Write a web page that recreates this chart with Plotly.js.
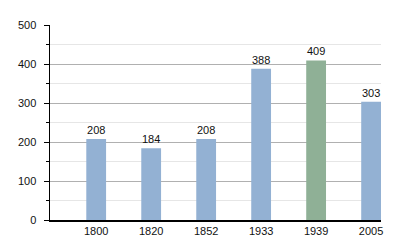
<!DOCTYPE html>
<html><head><meta charset="utf-8">
<script src="https://cdn.plot.ly/plotly-3.0.1.min.js"></script>
<style>html,body{margin:0;padding:0;background:#fff}#c{width:400px;height:250px}</style>
</head><body><div id="c"></div>
<script>
const years = ["1800","1820","1852","1933","1939","2005"];
const population = [208,184,208,388,409,303];
const barColors = ["#93b1d3","#93b1d3","#93b1d3","#93b1d3","#8fb096","#93b1d3"];

Plotly.newPlot('c', [{
  type:'bar', x:years, y:population,
  marker:{color:barColors},
  width:0.36,
  text:population.map(String), textposition:'outside', cliponaxis:false,
  textfont:{family:'Liberation Sans, Arial, sans-serif', size:11, color:'#111'}
}], {
  width:400, height:250,
  margin:{l:50, r:19, t:25, b:30},
  paper_bgcolor:'#fff', plot_bgcolor:'#fff',
  showlegend:false,
  font:{family:'Liberation Sans, Arial, sans-serif', size:11, color:'#111'},
  xaxis:{type:'category', range:[-0.84,5.18], showline:true, linecolor:'#000', linewidth:1.5,
    ticks:'', showgrid:false, zeroline:false, fixedrange:true},
  yaxis:{range:[0,500], dtick:100, showline:true, linecolor:'#000', linewidth:1.5,
    ticks:'outside', ticklen:5, tickcolor:'#000', gridcolor:'#b0b0b0', zeroline:false,
    minor:{dtick:50, showgrid:true, gridcolor:'#e6e6e6', ticks:'outside', ticklen:3, tickcolor:'#000'},
    ticklabelstandoff:5}
}, {displayModeBar:false, staticPlot:true});
</script></body></html>
